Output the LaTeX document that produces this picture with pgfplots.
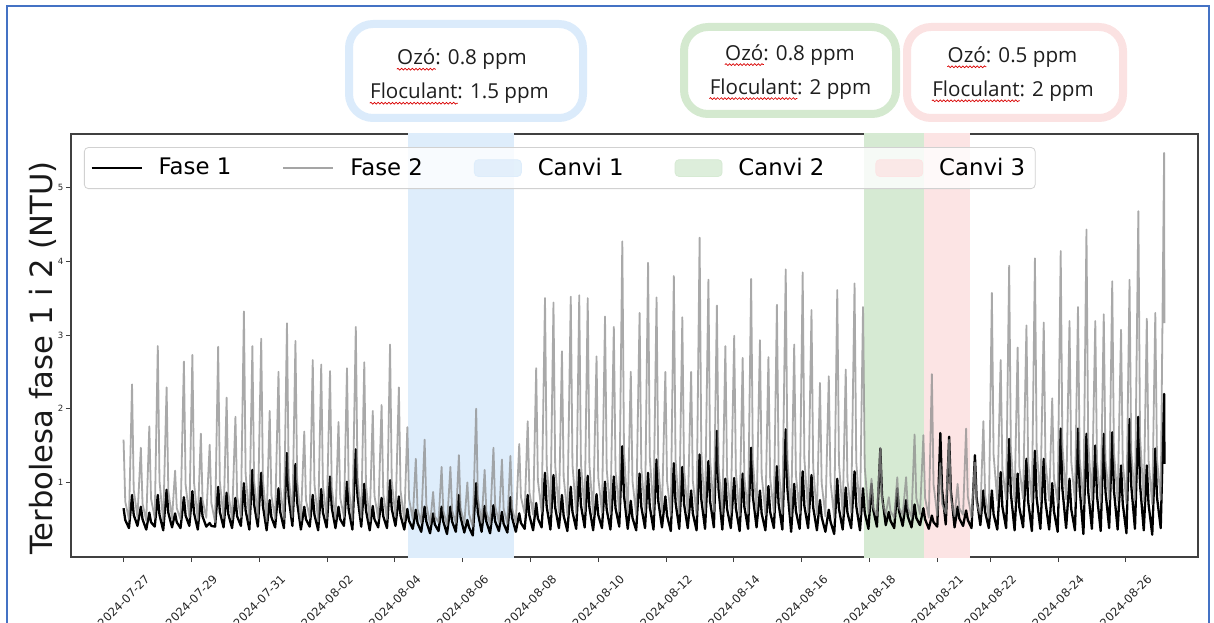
\documentclass[border=0pt]{standalone}
\usepackage{pgfplots}
\usepackage{pgfplotstable}
\pgfplotsset{compat=1.18}
\usetikzlibrary{decorations.pathmorphing}
\usepackage{fontspec}
\setmainfont{DejaVu Sans}
\newfontfamily\boxfont{Open Sans}
\definecolor{frameblue}{RGB}{68,114,196}
\definecolor{cA}{RGB}{222,237,251}
\definecolor{cB}{RGB}{214,234,211}
\definecolor{cC}{RGB}{252,228,228}
\definecolor{bA}{RGB}{219,235,251}
\definecolor{bB}{RGB}{212,233,207}
\definecolor{bC}{RGB}{251,226,226}
\definecolor{grayline}{RGB}{140,140,140}
\definecolor{graylegend}{RGB}{165,165,165}
\definecolor{txt}{RGB}{30,30,30}
\tikzset{annot/.style={inner sep=0pt, anchor=base, text=txt, font=\boxfont\fontsize{10.3}{12}\selectfont}}
\newcommand\annline[4]{%
  \node[annot] (#1) at #2 {#3#4};
  \node[annot, anchor=base west] (#1w) at (#1.base west) {\phantom{#3}};
  \draw[red!85!black, line width=0.35pt, decorate, decoration={snake, amplitude=0.45pt, segment length=1.8pt}]
    ([yshift=-2.2pt]#1w.base west) -- ([yshift=-2.2pt]#1w.base east);
}

\pgfplotstableread{
x f1 f2
0.00 0.65 1.58
0.05 0.49 0.74
0.16 0.38 0.50
0.25 0.83 2.33
0.30 0.56 0.90
0.41 0.41 0.53
0.51 0.67 1.47
0.56 0.50 0.71
0.67 0.36 0.48
0.76 0.59 1.76
0.81 0.46 0.78
0.92 0.40 0.52
1.01 0.83 2.85
1.06 0.56 1.02
1.17 0.35 0.47
1.27 0.90 2.29
1.32 0.59 0.89
1.43 0.39 0.51
1.52 0.58 1.16
1.57 0.46 0.65
1.68 0.38 0.50
1.78 0.80 2.64
1.83 0.55 0.97
1.94 0.41 0.53
2.03 0.88 2.73
2.08 0.58 0.99
2.19 0.36 0.48
2.28 0.79 1.66
2.33 0.54 0.76
2.44 0.40 0.52
2.54 0.45 1.51
2.59 0.41 0.72
2.70 0.40 0.46
2.79 0.94 2.84
2.84 0.60 1.01
2.95 0.39 0.51
3.04 0.86 2.15
3.09 0.57 0.86
3.20 0.38 0.50
3.30 0.79 1.89
3.35 0.54 0.81
3.46 0.41 0.53
3.55 0.99 3.32
3.60 0.62 1.12
3.71 0.36 0.48
3.80 1.17 2.85
3.85 0.70 1.02
3.96 0.40 0.52
4.06 1.13 2.95
4.11 0.68 1.04
4.22 0.35 0.47
4.31 0.76 1.97
4.36 0.53 0.82
4.47 0.39 0.51
4.57 0.92 2.50
4.62 0.60 0.94
4.73 0.38 0.50
4.82 1.40 3.16
4.87 0.79 1.09
4.98 0.41 0.53
5.07 1.25 2.92
5.12 0.73 1.03
5.23 0.36 0.48
5.33 0.67 1.69
5.38 0.50 0.76
5.49 0.40 0.52
5.58 0.83 2.66
5.63 0.56 0.98
5.74 0.35 0.47
5.83 0.91 2.60
5.88 0.59 0.96
5.99 0.39 0.51
6.09 1.08 2.51
6.14 0.66 0.94
6.25 0.38 0.50
6.34 0.67 1.82
6.39 0.50 0.79
6.50 0.41 0.53
6.59 1.01 2.55
6.64 0.63 0.95
6.75 0.36 0.48
6.85 1.45 3.11
6.90 0.81 1.07
7.01 0.40 0.52
7.10 0.98 2.63
7.15 0.62 0.97
7.26 0.35 0.47
7.35 0.68 1.97
7.40 0.50 0.82
7.51 0.39 0.51
7.61 0.79 2.05
7.66 0.54 0.84
7.77 0.38 0.50
7.86 1.03 2.87
7.91 0.64 1.02
8.02 0.41 0.53
8.12 0.81 2.29
8.17 0.55 0.89
8.28 0.36 0.48
8.37 0.64 1.75
8.42 0.48 0.78
8.53 0.37 0.50
8.62 0.63 1.32
8.67 0.45 0.64
8.78 0.33 0.45
8.88 0.67 1.58
8.93 0.47 0.70
9.04 0.31 0.43
9.13 0.58 0.87
9.18 0.43 0.54
9.29 0.34 0.46
9.38 0.67 1.21
9.43 0.47 0.62
9.54 0.30 0.42
9.64 0.67 1.21
9.69 0.47 0.62
9.80 0.33 0.45
9.89 0.83 1.37
9.94 0.53 0.65
10.05 0.32 0.44
10.14 0.49 1.00
10.19 0.39 0.57
10.30 0.28 0.40
10.40 0.99 2.00
10.45 0.59 0.79
10.56 0.33 0.45
10.65 0.68 1.17
10.70 0.47 0.61
10.81 0.31 0.43
10.91 0.69 1.47
10.96 0.47 0.68
11.07 0.34 0.46
11.16 0.60 1.31
11.21 0.44 0.64
11.32 0.32 0.44
11.41 0.80 1.36
11.46 0.52 0.65
11.57 0.33 0.45
11.67 0.58 1.52
11.72 0.45 0.80
11.83 0.37 0.58
11.92 0.83 1.83
11.97 0.55 0.87
12.08 0.35 0.56
12.17 0.72 2.55
12.22 0.51 1.03
12.33 0.39 0.60
12.43 1.13 3.50
12.48 0.67 1.24
12.59 0.36 0.57
12.68 1.10 3.44
12.73 0.66 1.23
12.84 0.38 0.59
12.93 0.83 2.78
12.98 0.55 1.08
13.09 0.34 0.55
13.19 0.94 3.52
13.24 0.60 1.24
13.35 0.37 0.58
13.44 1.17 3.54
13.49 0.69 1.25
13.60 0.39 0.60
13.69 1.09 3.50
13.74 0.66 1.24
13.85 0.35 0.56
13.95 0.84 2.71
14.00 0.56 1.07
14.11 0.38 0.59
14.20 1.01 3.25
14.25 0.63 1.18
14.36 0.36 0.57
14.46 1.08 3.11
14.51 0.65 1.15
14.62 0.40 0.61
14.71 1.49 4.27
14.76 0.82 1.41
14.87 0.37 0.58
14.96 0.75 2.50
15.01 0.52 1.02
15.12 0.35 0.56
15.22 1.12 3.30
15.27 0.67 1.20
15.38 0.38 0.59
15.47 1.13 3.98
15.52 0.67 1.35
15.63 0.36 0.57
15.72 1.31 3.51
15.77 0.75 1.24
15.88 0.39 0.60
15.98 0.81 2.50
16.03 0.55 1.02
16.14 0.34 0.55
16.23 1.26 3.80
16.28 0.73 1.31
16.39 0.37 0.58
16.48 1.21 3.24
16.53 0.71 1.18
16.64 0.38 0.59
16.74 0.89 2.50
16.79 0.58 1.02
16.90 0.35 0.56
16.99 1.38 4.32
17.04 0.77 1.42
17.15 0.37 0.58
17.25 1.29 3.75
17.30 0.74 1.30
17.41 0.39 0.60
17.50 1.70 3.40
17.55 0.90 1.22
17.66 0.36 0.57
17.75 1.05 2.85
17.80 0.64 1.10
17.91 0.38 0.59
18.01 1.06 2.99
18.06 0.65 1.13
18.17 0.34 0.55
18.26 1.12 2.69
18.31 0.67 1.06
18.42 0.37 0.58
18.51 1.47 3.76
18.56 0.81 1.30
18.67 0.39 0.60
18.77 0.89 2.93
18.82 0.58 1.11
18.93 0.35 0.56
19.02 0.95 2.70
19.07 0.60 1.06
19.18 0.38 0.59
19.27 1.22 3.41
19.32 0.71 1.22
19.43 0.36 0.57
19.53 1.72 3.89
19.58 0.91 1.33
19.69 0.33 0.54
19.78 0.98 2.87
19.83 0.61 1.10
19.94 0.37 0.58
20.03 1.15 3.85
20.08 0.68 1.32
20.19 0.38 0.59
20.29 1.10 3.34
20.34 0.66 1.20
20.45 0.35 0.56
20.54 0.76 2.35
20.59 0.53 0.99
20.70 0.33 0.54
20.80 0.63 2.44
20.85 0.47 1.01
20.96 0.30 0.52
21.05 1.05 3.61
21.10 0.64 1.26
21.21 0.36 0.57
21.30 0.93 2.53
21.35 0.59 1.03
21.46 0.38 0.59
21.56 1.15 3.70
21.61 0.68 1.28
21.72 0.35 0.56
21.81 0.92 3.38
21.86 0.59 1.21
21.97 0.37 0.58
22.06 0.98 1.05
22.11 0.63 0.66
22.22 0.40 0.55
22.32 1.46 1.47
22.37 0.82 0.75
22.48 0.42 0.57
22.57 0.60 0.80
22.62 0.48 0.61
22.73 0.38 0.52
22.82 0.92 1.07
22.87 0.61 0.66
22.98 0.41 0.56
23.08 0.76 1.07
23.13 0.54 0.66
23.24 0.39 0.53
23.33 0.70 1.65
23.38 0.52 0.79
23.49 0.42 0.57
23.59 0.65 1.64
23.64 0.50 0.79
23.75 0.37 0.52
23.84 0.55 2.47
23.89 0.46 0.97
24.00 0.40 0.55
24.09 1.67 1.26
24.14 0.91 0.71
24.25 0.43 0.58
24.35 1.62 1.58
24.40 0.89 0.78
24.51 0.39 0.54
24.60 0.67 0.98
24.65 0.51 0.65
24.76 0.41 0.56
24.85 0.62 1.73
24.90 0.49 0.81
25.01 0.38 0.53
25.11 1.37 1.27
25.16 0.79 0.71
25.27 0.42 0.57
25.36 0.89 1.83
25.41 0.60 0.83
25.52 0.38 0.52
25.61 0.89 3.57
25.66 0.57 1.38
25.77 0.36 0.75
25.87 1.14 2.66
25.92 0.67 1.18
26.03 0.38 0.77
26.12 1.59 3.94
26.17 0.85 1.46
26.28 0.35 0.74
26.37 1.12 2.83
26.42 0.66 1.21
26.53 0.39 0.78
26.63 1.32 3.13
26.68 0.74 1.28
26.79 0.34 0.73
26.88 1.43 4.04
26.93 0.79 1.48
27.04 0.37 0.76
27.14 1.32 3.17
27.19 0.74 1.29
27.30 0.36 0.75
27.39 0.99 2.14
27.44 0.61 1.06
27.55 0.33 0.72
27.64 1.73 4.14
27.69 0.91 1.50
27.80 0.38 0.77
27.90 1.05 3.19
27.95 0.64 1.29
28.06 0.35 0.74
28.15 1.73 3.38
28.20 0.91 1.33
28.31 0.30 0.70
28.40 1.66 4.43
28.45 0.88 1.56
28.56 0.37 0.76
28.66 1.50 3.19
28.71 0.82 1.29
28.82 0.34 0.73
28.91 1.66 3.28
28.96 0.88 1.31
29.07 0.38 0.77
29.16 1.68 3.73
29.21 0.89 1.41
29.32 0.36 0.75
29.42 1.23 3.07
29.47 0.71 1.27
29.58 0.31 0.71
29.67 1.86 3.75
29.72 0.96 1.42
29.83 0.37 0.76
29.93 1.89 4.68
29.98 0.97 1.62
30.09 0.35 0.74
30.18 1.23 3.22
30.23 0.71 1.30
30.34 0.29 0.70
30.43 1.46 3.30
30.48 0.80 1.32
30.59 0.38 0.77
30.69 2.20 5.47
30.70 1.25 3.16
}\turb

\begin{document}
\begin{tikzpicture}
% outer screenshot frame
\draw[frameblue, line width=1pt] (3.25pt,-5pt) -- (3.25pt,307.75pt) -- (604.5pt,307.75pt) -- (604.5pt,-5pt);

% annotation boxes
\draw[bA, line width=4pt, rounded corners=12pt] (174.5pt,252pt) rectangle (291.5pt,299pt);
\draw[bB, line width=4pt, rounded corners=12pt] (342pt,254pt) rectangle (448pt,297.5pt);
\draw[bC, line width=4pt, rounded corners=12pt] (453.5pt,252pt) rectangle (561.5pt,297.5pt);
\annline{a1}{(231pt,278.6pt)}{Ozó}{: 0.8 ppm}
\annline{a2}{(229.75pt,261.6pt)}{Floculant}{: 1.5 ppm}
\annline{b1}{(395pt,280.9pt)}{Ozó}{: 0.8 ppm}
\annline{b2}{(395.25pt,263.9pt)}{Floculant}{: 2 ppm}
\annline{c1}{(506.25pt,279.8pt)}{Ozó}{: 0.5 ppm}
\annline{c2}{(506.5pt,262.8pt)}{Floculant}{: 2 ppm}

\begin{axis}[
  at={(35.5pt,32.5pt)}, anchor=south west,
  width=563.5pt, height=211.5pt, scale only axis,
  xmin=-1.55, xmax=31.69, ymin=-0.012, ymax=5.727,
  axis line style={black!75, line width=0.6pt},
  tick pos=left, tick align=outside, major tick length=2.6pt,
  tick style={black!75, line width=0.4pt},
  xtick={0,2,4,6,8,10,12,14,16,18,20,22,24.0,25.56,27.56,29.56},
  xticklabels={2024-07-27,2024-07-29,2024-07-31,2024-08-02,2024-08-04,2024-08-06,2024-08-08,2024-08-10,2024-08-12,2024-08-14,2024-08-16,2024-08-18,2024-08-21,2024-08-22,2024-08-24,2024-08-26},
  xticklabel shift=19.5pt,
  xticklabel style={rotate=45, anchor=center, font=\fontsize{5.8}{6.5}\selectfont, inner sep=0.5pt, text=black!85},
  ytick={1,2,3,4,5}, yticklabels={1,2,3,4,5},
  yticklabel style={font=\fontsize{4.3}{5}\selectfont, inner sep=1pt, text=black!85},
  legend columns=5,
  legend cell align=left,
  legend image code/.code={\draw[#1, line cap=butt] (0pt,0pt) -- (25pt,0pt);},
  legend style={at={(0.0115,0.969)}, anchor=north west,
    draw=black!18, fill=white, fill opacity=0.8, text opacity=1, draw opacity=1,
    rounded corners=2pt, line width=0.4pt,
    font=\fontsize{11.4}{13}\selectfont, inner xsep=3pt, inner ysep=3.2pt,
    /tikz/every odd column/.append style={column sep=6pt},
    /tikz/every even column/.append style={column sep=23.5pt}},
]
\addlegendimage{black, line width=1.15pt}
\addlegendentry{Fase 1}
\addlegendimage{graylegend, line width=1pt}
\addlegendentry{Fase 2}
\addlegendimage{legend image code/.code={\fill[cA] (0pt,-4.2pt) rectangle (23.5pt,4.2pt);}}
\addlegendentry{Canvi 1}
\addlegendimage{legend image code/.code={\fill[cB] (0pt,-4.2pt) rectangle (23.5pt,4.2pt);}}
\addlegendentry{Canvi 2}
\addlegendimage{legend image code/.code={\fill[cC] (0pt,-4.2pt) rectangle (23.5pt,4.2pt);}}
\addlegendentry{Canvi 3}

% change periods
\addplot[fill=cA, draw=none, forget plot] coordinates {(8.39,-1) (8.39,7) (11.52,7) (11.52,-1)} -- cycle;
\addplot[fill=cB, draw=none, forget plot] coordinates {(21.84,-1) (21.84,7) (23.61,7) (23.61,-1)} -- cycle;
\addplot[fill=cC, draw=none, forget plot] coordinates {(23.61,-1) (23.61,7) (24.97,7) (24.97,-1)} -- cycle;

% series
\addplot[black, line width=1.15pt, line join=round, forget plot] table[x=x, y=f1] {\turb};
\addplot[grayline, opacity=0.75, line width=0.9pt, line join=round, forget plot] table[x=x, y=f2] {\turb};
\end{axis}

\node[rotate=90, anchor=base, inner sep=0pt, font=\fontsize{15.3}{17}\selectfont, text=black!90] at (26pt,132pt) {Terbolesa fase 1 i 2 (NTU)};

\pgfresetboundingbox
\path (0pt,0pt) rectangle (607pt,311pt);
\end{tikzpicture}
\end{document}
